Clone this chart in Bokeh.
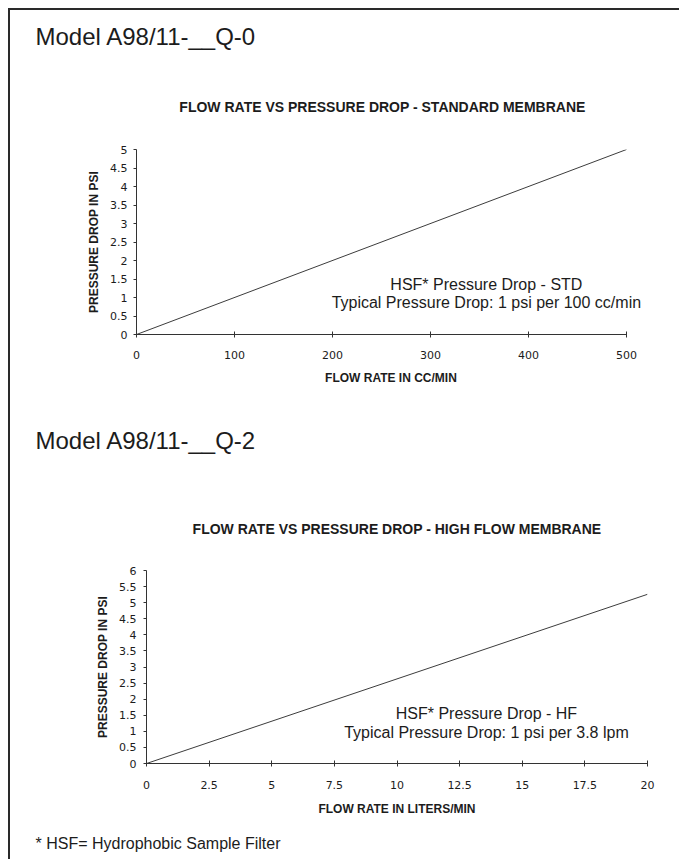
from bokeh.plotting import figure
from bokeh.layouts import column
from bokeh.models import Range1d, FixedTicker, Label
from bokeh.core.properties import value
from bokeh.embed import file_html
from bokeh.resources import INLINE

# ---------------- data ----------------
std_flow_cc_min = [0, 500]
std_drop_psi = [0, 5]
hf_flow_lpm = [0, 20]
hf_drop_psi = [0, 5.26]

std_x_ticks = [0, 100, 200, 300, 400, 500]
std_y_ticks = [0, 0.5, 1, 1.5, 2, 2.5, 3, 3.5, 4, 4.5, 5]
hf_x_ticks = [0, 2.5, 5, 7.5, 10, 12.5, 15, 17.5, 20]
hf_y_ticks = [0, 0.5, 1, 1.5, 2, 2.5, 3, 3.5, 4, 4.5, 5, 5.5, 6]

headings = ["Model A98/11-__Q-0", "Model A98/11-__Q-2"]
chart_titles = ["FLOW RATE VS PRESSURE DROP - STANDARD MEMBRANE",
                "FLOW RATE VS PRESSURE DROP - HIGH FLOW MEMBRANE"]
x_labels = ["FLOW RATE IN CC/MIN", "FLOW RATE IN LITERS/MIN"]
y_label = "PRESSURE DROP IN PSI"
notes_std = ["HSF* Pressure Drop - STD", "Typical Pressure Drop: 1 psi per 100 cc/min"]
notes_hf = ["HSF* Pressure Drop - HF", "Typical Pressure Drop: 1 psi per 3.8 lpm"]
footer_text = "* HSF= Hydrophobic Sample Filter"

# ---------------- styling ----------------
W = 669
TXT = "#1c1c1c"
SANS = "Liberation Sans"
TICK_FONT = "DejaVu Sans"


def text_panel(h, items):
    p = figure(width=W, height=h, x_range=Range1d(0, W), y_range=Range1d(h, 0),
               x_axis_type=None, y_axis_type=None, toolbar_location=None,
               output_backend="svg", min_border=0,
               min_border_left=0, min_border_right=0,
               min_border_top=0, min_border_bottom=0, frame_align=False)
    p.grid.visible = False
    p.outline_line_color = None
    for (x, y, t, size, style, align) in items:
        p.text(x=[x], y=[y], text=[t], text_font=value(SANS), text_font_size=size,
               text_font_style=style, text_align=align, text_baseline="middle",
               text_color=TXT)
    return p


def fmt(v):
    return f"{v:g}"


def chart(xs, ys, xticks, yticks, xr, x_end, yr, fw, fh, mbl, mbr, mbt, mbb,
          xlabel, notes, note_x, note_ys, xstand, ystand, xlab_stand, ylab_stand):
    p = figure(frame_width=fw, frame_height=fh, x_range=Range1d(xr[0], x_end),
               y_range=Range1d(*yr), toolbar_location=None, output_backend="svg",
               min_border_left=mbl, min_border_right=mbr,
               min_border_top=mbt, min_border_bottom=mbb, frame_align=False)
    p.grid.visible = False
    p.outline_line_color = None
    p.line(xs, ys, line_color="#3c3c3c", line_width=1)

    xa = p.xaxis[0]
    ya = p.yaxis[0]
    xa.ticker = FixedTicker(ticks=xticks)
    ya.ticker = FixedTicker(ticks=yticks)
    xa.bounds = xr
    xa.major_label_overrides = {float(v): fmt(v) for v in xticks}
    ya.major_label_overrides = {float(v): fmt(v) for v in yticks}
    for ax in (xa, ya):
        ax.axis_line_color = "#333333"
        ax.axis_line_width = 1
        ax.major_tick_line_color = "#333333"
        ax.minor_tick_line_color = None
        ax.major_label_text_font = TICK_FONT
        ax.major_label_text_font_size = "11px"
        ax.major_label_text_color = TXT
        ax.axis_label_text_font = SANS
        ax.axis_label_text_font_size = "12px"
        ax.axis_label_text_font_style = "bold"
        ax.axis_label_text_color = TXT
    xa.major_tick_in = 3
    xa.major_tick_out = 3
    ya.major_tick_in = 0
    ya.major_tick_out = 3
    xa.major_label_standoff = xstand
    ya.major_label_standoff = ystand
    xa.axis_label = xlabel
    ya.axis_label = y_label
    xa.axis_label_standoff = xlab_stand
    ya.axis_label_standoff = ylab_stand

    for t, yv in zip(notes, note_ys):
        p.add_layout(Label(x=note_x, y=yv, text=t, text_font=SANS,
                           text_font_size="16px", text_align="center",
                           text_baseline="middle", text_color=TXT))
    return p


head1 = text_panel(115, [
    (25, 26, headings[0], "24px", "normal", "left"),
    (372, 96, chart_titles[0], "14px", "bold", "center"),
])

# frame 509 px wide, 0.98 px per cc/min -> axis drawn 0..500, frame extends a bit beyond
chart1 = chart(std_flow_cc_min, std_drop_psi, std_x_ticks, std_y_ticks,
               (0, 500), 509 / 0.98, (0, 5), 509, 185, 126, 34, 24, 61,
               x_labels[0], notes_std, 357, [1.36, 0.857],
               13, 6, 9, 6)

head2 = text_panel(155, [
    (25, 45, headings[1], "24px", "normal", "left"),
    (386.5, 133, chart_titles[1], "14px", "bold", "center"),
])

chart2 = chart(hf_flow_lpm, hf_drop_psi, hf_x_ticks, hf_y_ticks,
               (0, 20), 20, (0, 6), 501, 193, 136, 32, 20, 65,
               x_labels[1], notes_hf, 13.57, [1.554, 0.973],
               14, 7, 10, 6)

foot = text_panel(31, [
    (25, 15, footer_text, "16px", "normal", "left"),
])

layout = column(head1, chart1, head2, chart2, foot, spacing=0,
                styles={"margin-left": "8px", "margin-top": "8px",
                        "border-left": "2px solid #2a2a2a",
                        "border-top": "2px solid #2a2a2a"})

open("out.html", "w").write(file_html(layout, INLINE))
